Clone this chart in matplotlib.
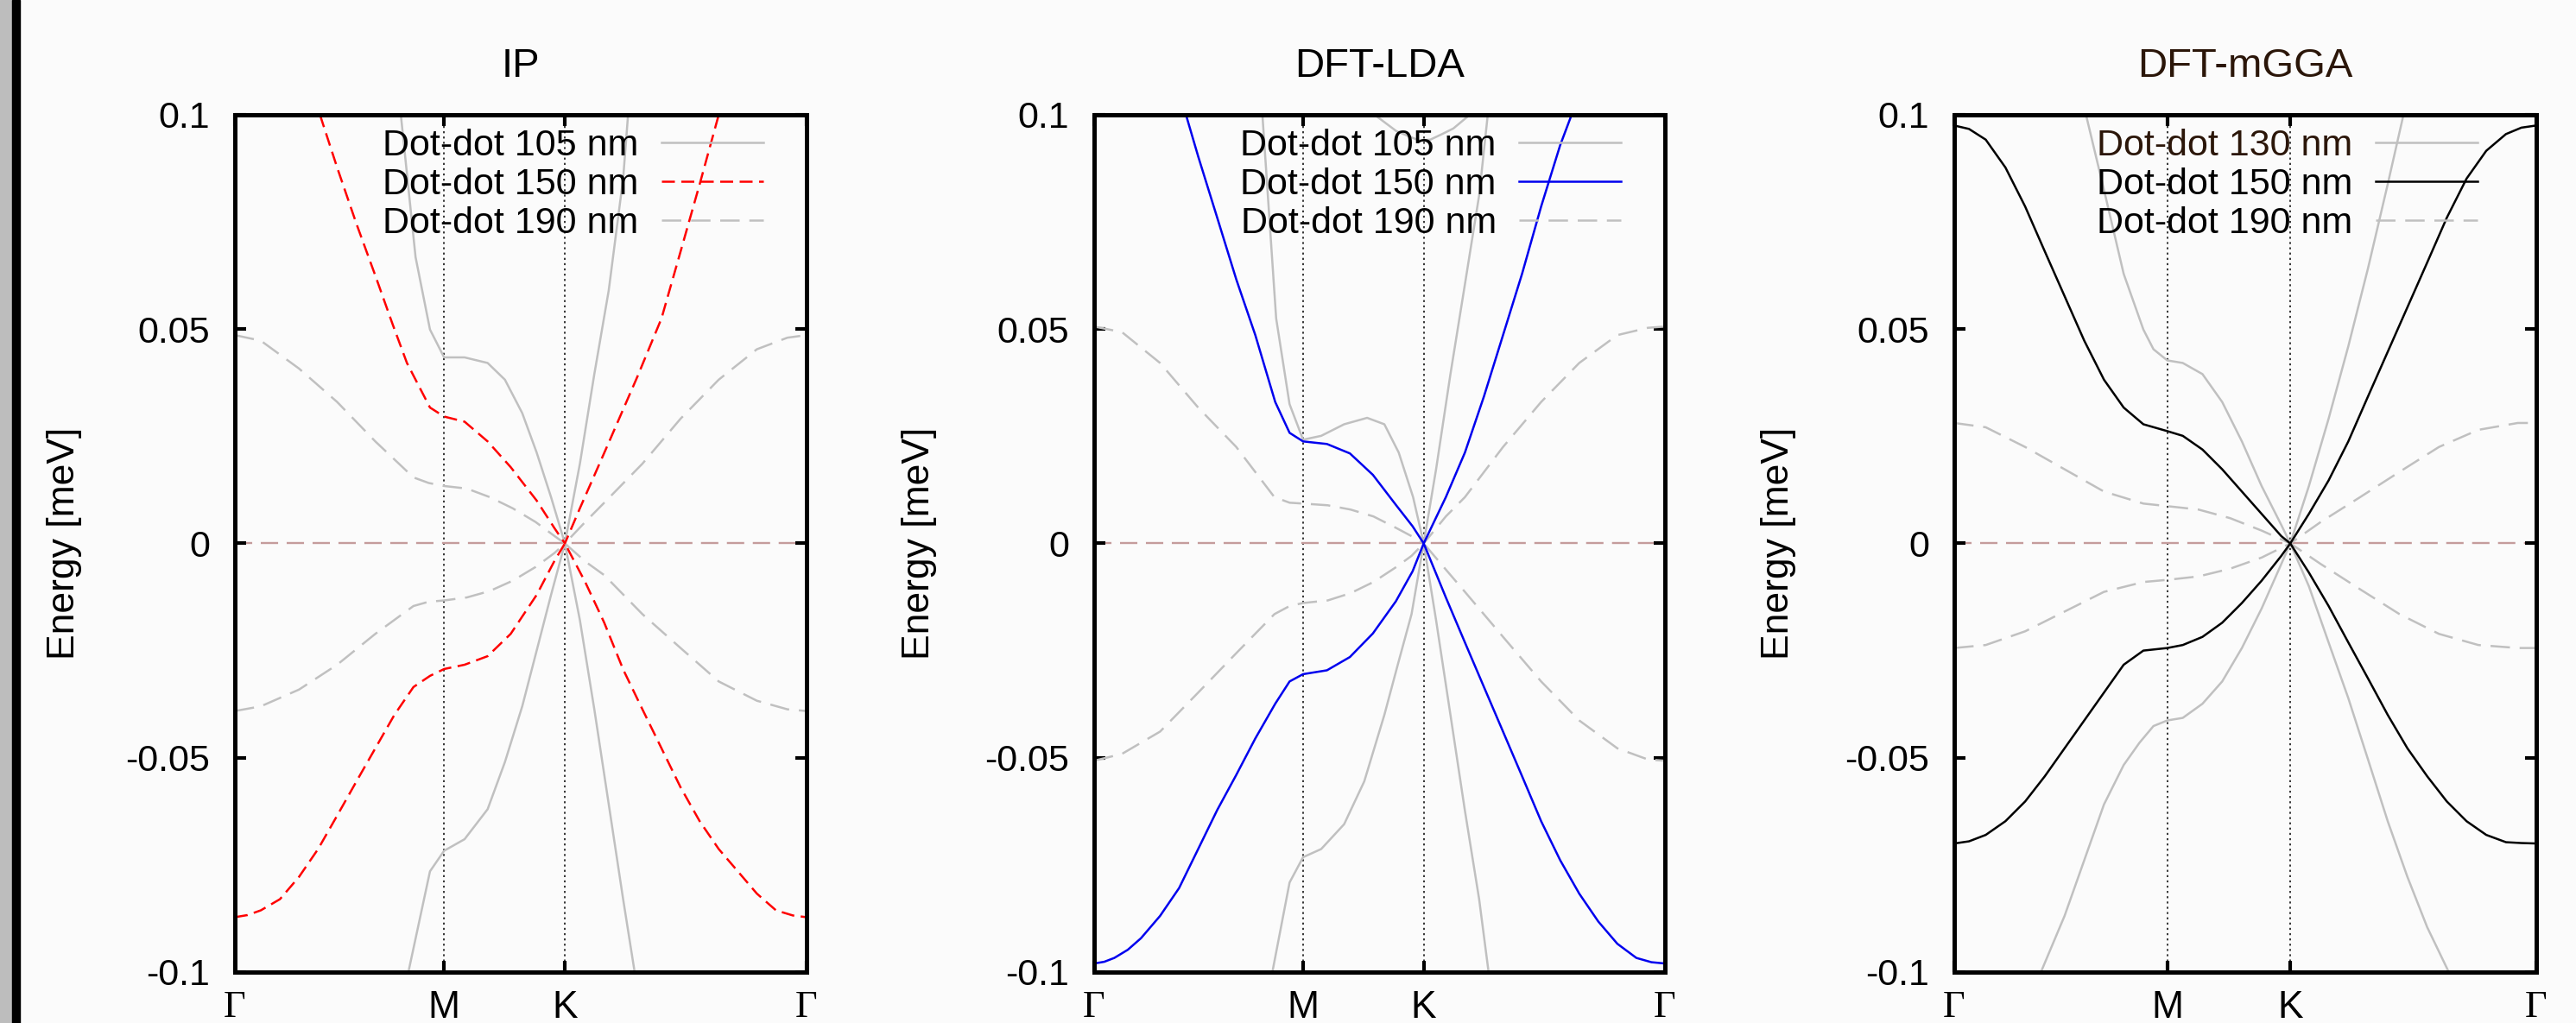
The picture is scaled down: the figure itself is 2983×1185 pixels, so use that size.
import matplotlib
matplotlib.use('Agg')
import matplotlib.pyplot as plt
from matplotlib.patches import Rectangle

plt.rcParams['font.family'] = ['Liberation Sans', 'DejaVu Sans']

# high-symmetry path  G - M - K - G
K_TICKS = [0.0, 0.5774, 0.9107, 1.5774]
K_LABELS = ['Γ', 'M', 'K', 'Γ']
Y_TICKS = [-0.1, -0.05, 0.0, 0.05, 0.1]
Y_LABELS = ['-0.1', '-0.05', '0', '0.05', '0.1']

# ---------------- IP ----------------
ip_105_up_k = [0.458, 0.4986, 0.5384, 0.5774, 0.6339, 0.6975, 0.7452, 0.7930, 0.8328, 0.8725, 0.9107,
               0.9521, 0.9919, 1.0316, 1.0714, 1.0850]
ip_105_up_e = [0.1, 0.0668, 0.0499, 0.0434, 0.0434, 0.0421, 0.0382, 0.0304, 0.0212, 0.0108, 0.0,
               0.0186, 0.0395, 0.0590, 0.0851, 0.1]
ip_105_dn_k = [0.4788, 0.5384, 0.5774, 0.6339, 0.6975, 0.7452, 0.7930, 0.8328, 0.8725, 0.9107,
               0.9521, 0.9919, 1.0316, 1.0714, 1.1032]
ip_105_dn_e = [-0.1, -0.0765, -0.0717, -0.0690, -0.0620, -0.0510, -0.0380, -0.0250, -0.0120, 0.0,
               -0.0179, -0.0387, -0.0608, -0.0830, -0.1]

ip_150_up_k = [0.2348, 0.2822, 0.3349, 0.3875, 0.4350, 0.4748, 0.5384, 0.5774, 0.6339, 0.6975, 0.7611,
               0.8328, 0.8824, 0.9107, 0.9521, 1.0316, 1.1112, 1.1773, 1.2299, 1.2826, 1.3352]
ip_150_up_e = [0.1, 0.0877, 0.0747, 0.0625, 0.0512, 0.0421, 0.0317, 0.0296, 0.0284, 0.0238, 0.0178,
               0.0100, 0.0035, 0.0, 0.0082, 0.0235, 0.0390, 0.0525, 0.0681, 0.0838, 0.1]
ip_150_dn_k = [0.0, 0.0350, 0.0716, 0.1243, 0.1769, 0.2296, 0.2822, 0.3349, 0.3875, 0.4402, 0.4928, 0.5384,
               0.5774, 0.6339, 0.6975, 0.7611, 0.8328, 0.8824, 0.9107, 0.9667, 1.0193, 1.0720, 1.1246,
               1.1773, 1.2299, 1.2826, 1.3352, 1.3879, 1.4405, 1.4932, 1.5400, 1.5774]
ip_150_dn_e = [-0.0872, -0.0867, -0.0856, -0.0830, -0.0778, -0.0713, -0.0635, -0.0556, -0.0478, -0.0400,
               -0.0335, -0.0309, -0.0293, -0.0283, -0.0263, -0.0211, -0.0120, -0.0040, 0.0, -0.0090,
               -0.0185, -0.0295, -0.0387, -0.0478, -0.0569, -0.0648, -0.0713, -0.0765, -0.0817, -0.0856,
               -0.0868, -0.0872]

ip_190_k = [0.0, 0.0716, 0.1769, 0.2822, 0.3875, 0.4928, 0.5349, 0.5774, 0.6402, 0.7034, 0.7666, 0.8298,
            0.8824, 0.9107, 0.9667, 1.0193, 1.1246, 1.2299, 1.3352, 1.4405, 1.5247, 1.5774]
ip_190_up_e = [0.0486, 0.0473, 0.0408, 0.0330, 0.0238, 0.0154, 0.0141, 0.0134, 0.0128, 0.0108, 0.0082,
               0.0050, 0.0017, 0.0, 0.0050, 0.0095, 0.0186, 0.0291, 0.0382, 0.0453, 0.0480, 0.0486]
ip_190_dn_e = [-0.0391, -0.0380, -0.0341, -0.0283, -0.0211, -0.0146, -0.0136, -0.0133, -0.0126, -0.0111,
               -0.0087, -0.0055, -0.0022, 0.0, -0.0042, -0.0074, -0.0165, -0.0244, -0.0322, -0.0367,
               -0.0387, -0.0391]

# ---------------- DFT-LDA ----------------
lda_105_up_k = [0.465, 0.503, 0.540, 0.5774, 0.6274, 0.6909, 0.7544, 0.8020, 0.8417, 0.8814, 0.9107,
                0.9449, 0.9846, 1.0243, 1.0639, 1.0877]
lda_105_up_e = [0.1, 0.0525, 0.0325, 0.0242, 0.0251, 0.0278, 0.0293, 0.0278, 0.0212, 0.0108, 0.0,
                0.0173, 0.0395, 0.0603, 0.0812, 0.1]
lda_105_top_k = [0.775, 0.8350, 0.8982, 0.9290, 0.9614, 0.9925, 1.0380]
lda_105_top_e = [0.1, 0.0962, 0.0940, 0.0942, 0.0955, 0.0968, 0.1]
lda_105_dn_k = [0.4925, 0.5401, 0.5774, 0.6274, 0.6909, 0.7465, 0.8020, 0.8400, 0.8771, 0.9107,
                0.9449, 0.9846, 1.0243, 1.0639, 1.0900]
lda_105_dn_e = [-0.1, -0.0791, -0.0732, -0.0713, -0.0655, -0.0555, -0.0400, -0.0280, -0.0165, 0.0,
                -0.0179, -0.0400, -0.0622, -0.0830, -0.1]

lda_150_up_k = [0.2538, 0.2875, 0.3401, 0.3928, 0.4454, 0.5004, 0.5401, 0.5774, 0.6433, 0.7068, 0.7703,
                0.8338, 0.8800, 0.9107, 0.9719, 1.0246, 1.0772, 1.1299, 1.1825, 1.2352, 1.2878, 1.3194]
lda_150_up_e = [0.1, 0.0903, 0.0760, 0.0616, 0.0486, 0.0330, 0.0258, 0.0238, 0.0232, 0.0210, 0.0160,
                0.0090, 0.0040, 0.0, 0.0108, 0.0212, 0.0343, 0.0486, 0.0629, 0.0786, 0.0929, 0.1]
lda_150_dn_k = [0.0, 0.0280, 0.0558, 0.0930, 0.1295, 0.1822, 0.2348, 0.2875, 0.3401, 0.3928, 0.4454, 0.5004,
                0.5401, 0.5774, 0.6433, 0.7068, 0.7703, 0.8338, 0.8800, 0.9107, 0.9719, 1.0246, 1.0772,
                1.1299, 1.1825, 1.2352, 1.2878, 1.3405, 1.3931, 1.4458, 1.4984, 1.5400, 1.5774]
lda_150_dn_e = [-0.0980, -0.0976, -0.0967, -0.0948, -0.0921, -0.0869, -0.0804, -0.0713, -0.0622, -0.0540,
                -0.0455, -0.0374, -0.0322, -0.0305, -0.0296, -0.0265, -0.0210, -0.0135, -0.0065, 0.0,
                -0.0126, -0.0231, -0.0335, -0.0439, -0.0543, -0.0648, -0.0739, -0.0817, -0.0882, -0.0934,
                -0.0967, -0.0977, -0.0980]

lda_190_k = [0.0, 0.0769, 0.1822, 0.2875, 0.3928, 0.4981, 0.5402, 0.5774, 0.6455, 0.7087, 0.7718, 0.8350,
             0.8771, 0.9107, 0.9719, 1.0246, 1.1299, 1.2352, 1.3405, 1.4458, 1.5300, 1.5774]
lda_190_up_e = [0.0506, 0.0493, 0.0421, 0.0317, 0.0225, 0.0108, 0.0095, 0.0093, 0.0089, 0.0079, 0.0063,
                0.0036, 0.0017, 0.0, 0.0063, 0.0108, 0.0225, 0.0330, 0.0421, 0.0486, 0.0503, 0.0506]
lda_190_dn_e = [-0.0507, -0.0491, -0.0439, -0.0348, -0.0256, -0.0165, -0.0146, -0.0139, -0.0133, -0.0116,
                -0.0090, -0.0055, -0.0029, 0.0, -0.0061, -0.0113, -0.0218, -0.0322, -0.0413, -0.0478,
                -0.0504, -0.0507]

# ---------------- DFT-mGGA ----------------
mgga_130_up_k = [0.3571, 0.4058, 0.4592, 0.5126, 0.5400, 0.5774, 0.6194, 0.6728, 0.7262, 0.7796, 0.8330,
                 0.8864, 0.9107, 0.9612, 1.0146, 1.0680, 1.1214, 1.1748, 1.2175]
mgga_130_up_e = [0.1, 0.0825, 0.0629, 0.0499, 0.0453, 0.0427, 0.0421, 0.0395, 0.0330, 0.0238, 0.0134,
                 0.0043, 0.0, 0.0134, 0.0291, 0.0460, 0.0642, 0.0838, 0.1]
mgga_130_dn_k = [0.2350, 0.2990, 0.3524, 0.4058, 0.4592, 0.5020, 0.5400, 0.5774, 0.6194, 0.6728, 0.7262,
                 0.7796, 0.8330, 0.8864, 0.9107, 0.9612, 1.0146, 1.0680, 1.1214, 1.1748, 1.2282, 1.2816,
                 1.3403]
mgga_130_dn_e = [-0.1, -0.0869, -0.0739, -0.0609, -0.0517, -0.0465, -0.0426, -0.0413, -0.0407, -0.0374,
                 -0.0322, -0.0244, -0.0152, -0.0048, 0.0, -0.0100, -0.0231, -0.0361, -0.0504, -0.0648,
                 -0.0778, -0.0895, -0.1]

mgga_150_k = [0.0, 0.0400, 0.0854, 0.1388, 0.1922, 0.2456, 0.2990, 0.3524, 0.4058, 0.4592, 0.5126, 0.5774,
              0.6194, 0.6728, 0.7262, 0.7796, 0.8330, 0.8864, 0.9107, 0.9612, 1.0146, 1.0680, 1.1214,
              1.1748, 1.2282, 1.2816, 1.3350, 1.3884, 1.4418, 1.4952, 1.5370, 1.5774]
mgga_150_up_e = [0.0975, 0.0967, 0.0942, 0.0877, 0.0786, 0.0681, 0.0577, 0.0473, 0.0382, 0.0317, 0.0278,
                 0.0262, 0.0251, 0.0219, 0.0173, 0.0121, 0.0069, 0.0017, 0.0, 0.0069, 0.0147, 0.0238,
                 0.0343, 0.0447, 0.0551, 0.0655, 0.0760, 0.0851, 0.0916, 0.0955, 0.0970, 0.0975]
mgga_150_dn_e = [-0.0700, -0.0695, -0.0680, -0.0648, -0.0602, -0.0543, -0.0478, -0.0413, -0.0348, -0.0283,
                 -0.0250, -0.0244, -0.0237, -0.0218, -0.0185, -0.0139, -0.0087, -0.0029, 0.0, -0.0068,
                 -0.0146, -0.0231, -0.0315, -0.0400, -0.0478, -0.0543, -0.0602, -0.0648, -0.0680, -0.0697,
                 -0.0699, -0.0700]

mgga_190_k = [0.0, 0.0854, 0.1922, 0.2990, 0.4058, 0.5126, 0.5774, 0.6621, 0.7476, 0.8330, 0.9107, 0.9932,
              1.1000, 1.2068, 1.3136, 1.4204, 1.5272, 1.5774]
mgga_190_up_e = [0.0281, 0.0271, 0.0225, 0.0173, 0.0121, 0.0093, 0.0087, 0.0079, 0.0059, 0.0030, 0.0,
                 0.0050, 0.0108, 0.0167, 0.0225, 0.0265, 0.0281, 0.0281]
mgga_190_dn_e = [-0.0244, -0.0237, -0.0205, -0.0159, -0.0113, -0.0090, -0.0085, -0.0077, -0.0059, -0.0033,
                 0.0, -0.0048, -0.0107, -0.0165, -0.0211, -0.0237, -0.0244, -0.0244]

GRAY = '#c0c0c0'
BG = '#fbfbfb'
BROWN = '#2b1609'
LW = 1.8

fig = plt.figure(figsize=(29.83, 11.85), dpi=100, facecolor=BG)
# screenshot border on the left
fig.patches.append(Rectangle((0, 0), 14 / 2983, 1, transform=fig.transFigure, color='#bdbdbd', zorder=0))
fig.patches.append(Rectangle((14 / 2983, 0), 9 / 2983, 1, transform=fig.transFigure, color='black', zorder=0))

ax1 = fig.add_axes([0.09118, 0.04979, 0.2219, 0.8380])
ax2 = fig.add_axes([0.42474, 0.04979, 0.2216, 0.8380])
ax3 = fig.add_axes([0.75863, 0.04979, 0.22595, 0.8380])


def setup(ax, title, title_color, ylab_x):
    ax.set_facecolor(BG)
    ax.set_xlim(K_TICKS[0], K_TICKS[-1])
    ax.set_ylim(-0.1, 0.1)
    ax.set_yticks(Y_TICKS)
    ax.set_yticklabels(Y_LABELS)
    ax.set_xticks(K_TICKS)
    ax.set_xticklabels(K_LABELS)
    for lab in ax.get_xticklabels():
        if lab.get_text() == 'Γ':
            lab.set_fontfamily(['Liberation Serif', 'DejaVu Serif'])
    ax.tick_params(direction='in', length=9.5, width=3, top=True, right=True, labelsize=31)
    ax.tick_params(axis='y', pad=21)
    ax.tick_params(axis='x', pad=15, labelsize=32)
    for s in ax.spines.values():
        s.set_linewidth(3.6)
    for kx in K_TICKS[1:3]:
        ax.axvline(kx, color='black', lw=1.1, ls=(0, (1.5, 2.5)), zorder=1)
    ax.axhline(0, color='#c49c9c', lw=1.7, dashes=(8.5, 4.2), zorder=1)
    ax.set_title(title, fontsize=34, pad=32, color=title_color)
    ax.set_ylabel('Energy [meV]', fontsize=32)
    ax.yaxis.set_label_coords(ylab_x, 0.5)


def legend(ax, handles, labels, xr):
    lg = ax.legend(handles, labels, loc='upper right', bbox_to_anchor=(xr, 0.984), frameon=False,
                   markerfirst=False, fontsize=31, handlelength=2.75, handletextpad=0.6,
                   labelspacing=0.12, borderpad=0, borderaxespad=0)
    return lg


# IP
setup(ax1, 'IP', 'black', -0.267)
g1, = ax1.plot(ip_105_up_k, ip_105_up_e, color=GRAY, lw=LW)
ax1.plot(ip_105_dn_k, ip_105_dn_e, color=GRAY, lw=LW)
d1, = ax1.plot(ip_190_k, ip_190_up_e, color=GRAY, lw=LW, dashes=(9, 4.5))
ax1.plot(ip_190_k, ip_190_dn_e, color=GRAY, lw=LW, dashes=(9, 4.5))
r1, = ax1.plot(ip_150_up_k, ip_150_up_e, color='red', lw=LW, dashes=(6, 3))
ax1.plot(ip_150_dn_k, ip_150_dn_e, color='red', lw=LW, dashes=(6, 3))
legend(ax1, [g1, r1, d1], ['Dot-dot 105 nm', 'Dot-dot 150 nm', 'Dot-dot 190 nm'], 0.9245)

# DFT-LDA
setup(ax2, 'DFT-LDA', 'black', -0.275)
g2, = ax2.plot(lda_105_up_k, lda_105_up_e, color=GRAY, lw=LW)
ax2.plot(lda_105_top_k, lda_105_top_e, color=GRAY, lw=LW)
ax2.plot(lda_105_dn_k, lda_105_dn_e, color=GRAY, lw=LW)
d2, = ax2.plot(lda_190_k, lda_190_up_e, color=GRAY, lw=LW, dashes=(9, 4.5))
ax2.plot(lda_190_k, lda_190_dn_e, color=GRAY, lw=LW, dashes=(9, 4.5))
b2, = ax2.plot(lda_150_up_k, lda_150_up_e, color='#0000ee', lw=LW)
ax2.plot(lda_150_dn_k, lda_150_dn_e, color='#0000ee', lw=LW)
legend(ax2, [g2, b2, d2], ['Dot-dot 105 nm', 'Dot-dot 150 nm', 'Dot-dot 190 nm'], 0.9228)

# DFT-mGGA
setup(ax3, 'DFT-mGGA', BROWN, -0.2715)
g3, = ax3.plot(mgga_130_up_k, mgga_130_up_e, color=GRAY, lw=LW)
ax3.plot(mgga_130_dn_k, mgga_130_dn_e, color=GRAY, lw=LW)
d3, = ax3.plot(mgga_190_k, mgga_190_up_e, color=GRAY, lw=LW, dashes=(9, 4.5))
ax3.plot(mgga_190_k, mgga_190_dn_e, color=GRAY, lw=LW, dashes=(9, 4.5))
k3, = ax3.plot(mgga_150_k, mgga_150_up_e, color='black', lw=LW)
ax3.plot(mgga_150_k, mgga_150_dn_e, color='black', lw=LW)
lg3 = legend(ax3, [g3, k3, d3], ['Dot-dot 130 nm', 'Dot-dot 150 nm', 'Dot-dot 190 nm'], 0.899)
lg3.get_texts()[0].set_color(BROWN)

fig.savefig('out.png', dpi=100, facecolor=BG)
